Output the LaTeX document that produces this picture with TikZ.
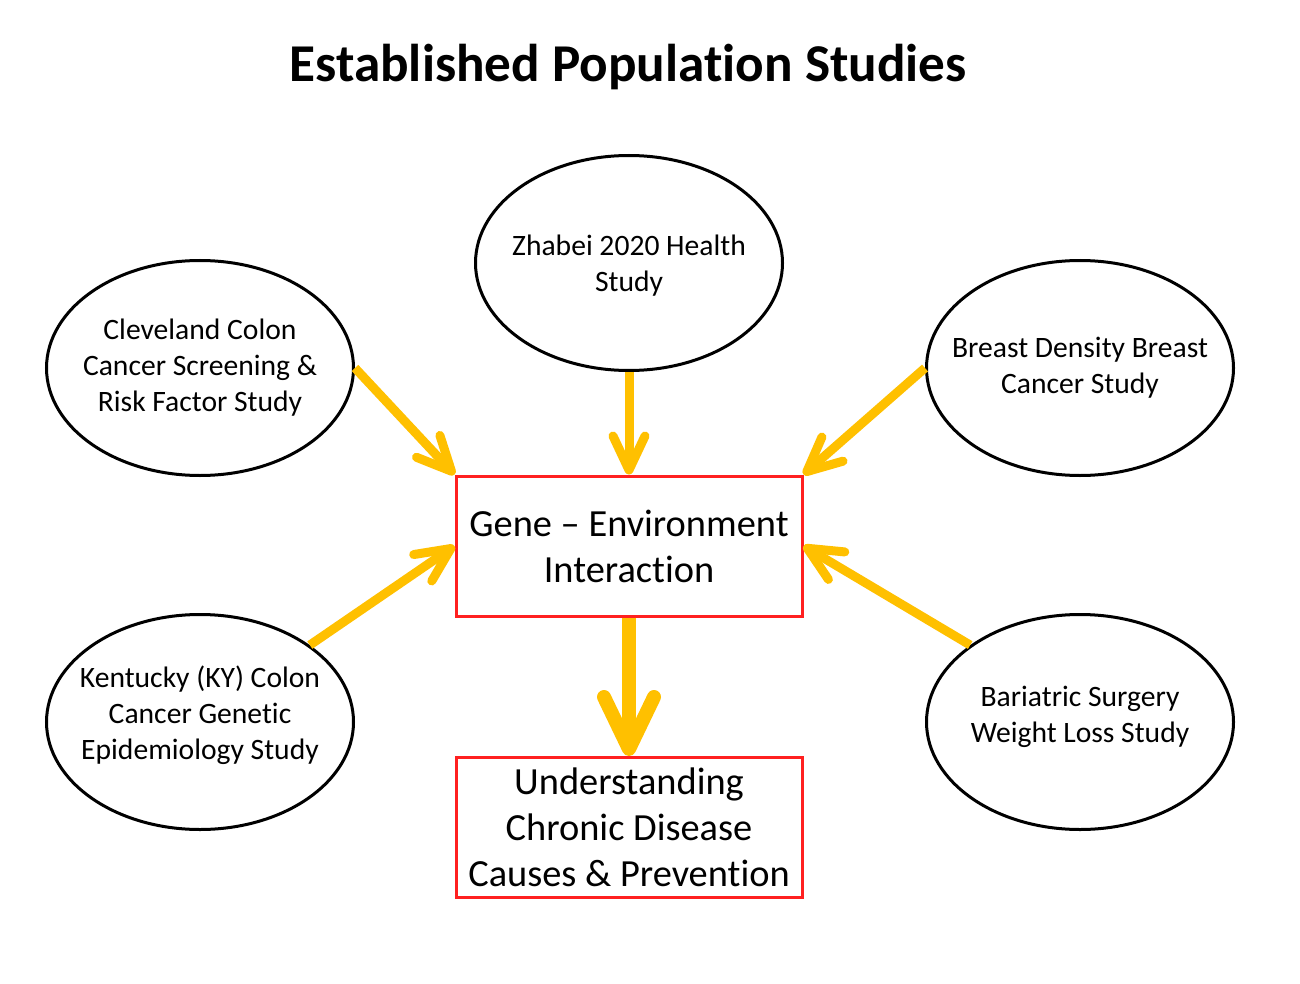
\documentclass[tikz,border=0pt]{standalone}
\usepackage{fontspec}
\setmainfont{Carlito}[Ligatures={NoCommon}]
\usetikzlibrary{shapes.geometric,arrows.meta}
\definecolor{gold}{HTML}{FFC000}
\definecolor{boxred}{HTML}{FF2020}
\begin{document}
\begin{tikzpicture}[x=0.5pt,y=-0.5pt,
  ell/.style={draw=black,line width=1.5pt,ellipse,minimum width=153.5pt,minimum height=107.5pt,inner sep=0pt},
  elltext/.style={align=center,font=\fontsize{14.8}{18}\selectfont,inner sep=0pt},
  redbox/.style={draw=boxred,line width=1.5pt,rectangle,minimum width=173pt,minimum height=70pt,inner sep=0pt,align=center,font=\fontsize{19.2}{23}\selectfont},
  thinarrow/.style={draw=gold,line width=4.5pt,-{Straight Barb[round,length=17pt,width=16pt]}},
  thickarrow/.style={draw=gold,line width=7pt,-{Straight Barb[round,length=26pt,width=25pt]}}
]
\useasboundingbox[fill=white] (0,0) rectangle (1300,984);
\node[anchor=base,font=\fontsize{26.6}{30}\selectfont\bfseries,inner sep=0pt] (title) at (628,82) {Established Population Studies};
\node[ell,label={[elltext]center:{Cleveland Colon\\Cancer Screening \&\\Risk Factor Study}}] (cl) at (200,368) {};
\node[ell,label={[elltext,yshift=-1.5pt]center:{Zhabei 2020 Health\\Study}}] (zh) at (629,263) {};
\node[ell,label={[elltext]center:{Breast Density Breast\\Cancer Study}}] (bd) at (1080,368) {};
\node[ell,label={[elltext,yshift=3.5pt]center:{Kentucky (KY) Colon\\Cancer Genetic\\Epidemiology Study}}] (kt) at (200,722) {};
\node[ell,label={[elltext,yshift=2.5pt]center:{Bariatric Surgery\\Weight Loss Study}}] (bs) at (1080,722) {};
\node[redbox] (ge) at (629,546) {Gene -- Environment\\Interaction};
\node[redbox] (uc) at (629,827.5) {Understanding\\Chronic Disease\\Causes \& Prevention};
\draw[thinarrow] (cl.east) -- (ge.north west);
\draw[thinarrow] (zh.south) -- (ge.north);
\draw[thinarrow] (bd.west) -- (ge.north east);
\draw[thinarrow] (kt.35) -- (ge.west);
\draw[thinarrow] (bs.145) -- (ge.east);
\draw[thickarrow] (ge.south) -- (uc.north);
\end{tikzpicture}
\end{document}
